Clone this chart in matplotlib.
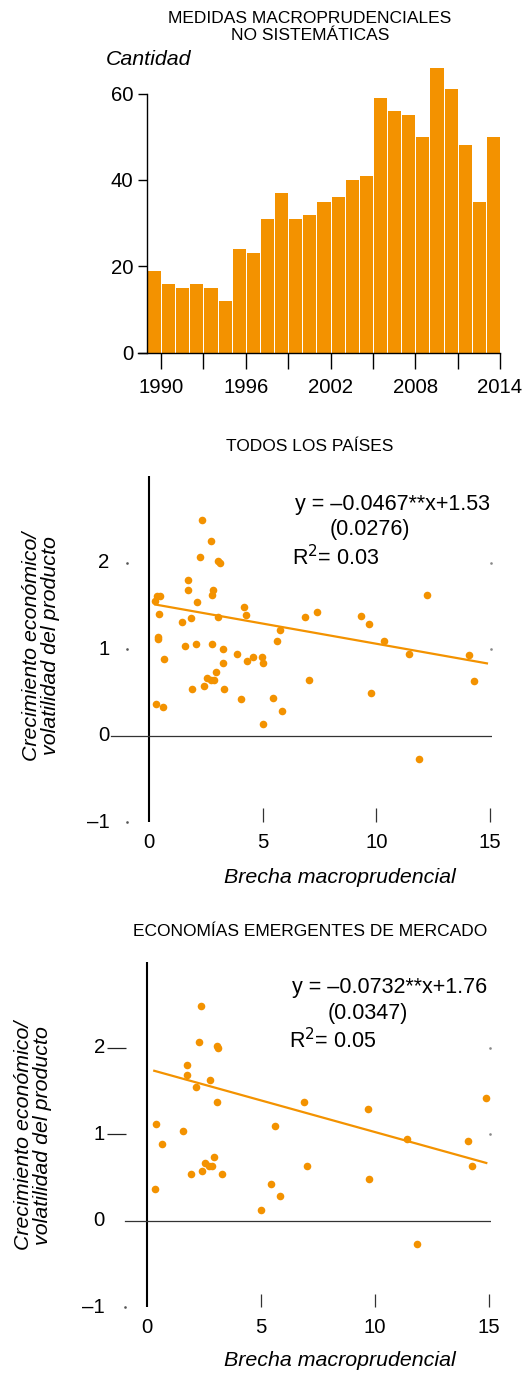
import numpy as np
import matplotlib
matplotlib.use('Agg')
import matplotlib.pyplot as plt

plt.rcParams['font.family'] = ['Liberation Sans', 'DejaVu Sans']

ORANGE = '#F39200'

# --- data -------------------------------------------------------------
years = list(range(1990, 2015))
counts = [19, 16, 15, 16, 15, 12, 24, 23, 31, 37, 31, 32, 35, 36, 40, 41,
          59, 56, 55, 50, 66, 61, 48, 35, 50]
year_ticks = [1990, 1993, 1996, 1999, 2002, 2005, 2008, 2011, 2014]
year_labels = [1990, 1996, 2002, 2008, 2014]
count_ticks = [0, 20, 40, 60]

# todos los paises
gap_all = [2.36, 2.74, 2.27, 3.06, 3.13, 1.74, 1.73, 2.81, 2.78, 0.35, 0.51,
           0.29, 2.14, 4.20, 0.47, 4.26, 1.85, 3.04, 1.48, 6.87, 7.41, 9.34,
           9.68, 12.21, 5.77, 5.63, 10.34, 11.45, 14.07, 0.41, 0.43, 1.60,
           2.10, 2.80, 3.27, 3.86, 0.67, 4.33, 4.57, 4.98, 5.03, 3.25, 2.94,
           2.58, 2.72, 2.86, 7.05, 14.30, 1.91, 2.41, 3.30, 4.05, 5.44, 9.78,
           0.34, 0.61, 5.84, 5.01, 11.88]
ratio_all = [2.49, 2.25, 2.07, 2.02, 2.00, 1.80, 1.69, 1.68, 1.63, 1.62, 1.62,
             1.56, 1.55, 1.49, 1.41, 1.40, 1.36, 1.37, 1.31, 1.37, 1.43, 1.38,
             1.29, 1.63, 1.22, 1.09, 1.10, 0.95, 0.93, 1.14, 1.12, 1.04,
             1.06, 1.06, 1.00, 0.95, 0.89, 0.86, 0.91, 0.91, 0.84, 0.84, 0.74,
             0.67, 0.64, 0.64, 0.64, 0.63, 0.54, 0.57, 0.54, 0.42, 0.43, 0.49,
             0.37, 0.33, 0.29, 0.13, -0.27]
fit_all = (-0.0467, 1.53)
fit_all_x = (0.29, 14.86)
eq_all = ['y = \u20130.0467**x+1.53', '(0.0276)', 'R$^2$= 0.03']

# economias emergentes
gap_em = [2.37, 2.29, 3.06, 3.13, 1.75, 1.74, 2.15, 2.78, 3.06, 6.87, 9.69,
          14.85, 5.61, 0.41, 1.58, 0.67, 11.42, 14.06, 2.94, 2.56, 2.70,
          2.85, 7.03, 14.25, 1.92, 2.40, 3.29, 5.42, 9.74, 0.35, 5.83, 5.01,
          11.84]
ratio_em = [2.49, 2.07, 2.02, 2.00, 1.80, 1.69, 1.55, 1.63, 1.37, 1.37, 1.29,
            1.42, 1.10, 1.12, 1.04, 0.89, 0.95, 0.93, 0.74, 0.67, 0.64,
            0.64, 0.64, 0.63, 0.54, 0.58, 0.54, 0.43, 0.49, 0.37, 0.29, 0.13,
            -0.27]
fit_em = (-0.0732, 1.76)
fit_em_x = (0.32, 14.88)
eq_em = ['y = \u20130.0732**x+1.76', '(0.0347)', 'R$^2$= 0.05']

x_ticks = [5, 10, 15]
x_labels = [0, 5, 10, 15]
y_ticks = [2, 1, 0, -1]

W, H = 524, 1374
fig = plt.figure(figsize=(W / 100, H / 100), dpi=100)

TICK_FS = 14.7
EQ_FS = 15.5
LAB_FS = 15.4
TITLE_FS = 12.5


def box(l, t, r, b):
    return [l / W, 1 - b / H, (r - l) / W, (b - t) / H]


# --- bar chart -----------------------------------------------------------
ax = fig.add_axes(box(147, 59.1, 500, 352.7))
ax.bar(years, counts, width=-0.93, align='edge', color=ORANGE, linewidth=0)
ax.set_xlim(1989, 2014)
ax.set_ylim(0, 68)
for s in ['top', 'right']:
    ax.spines[s].set_visible(False)
ax.spines['left'].set_bounds(0, 60)
ax.spines['bottom'].set_bounds(1988.35, 2014)
ax.spines['left'].set_linewidth(1.0)
ax.spines['bottom'].set_linewidth(1.0)
ax.set_yticks(count_ticks)
ax.tick_params(axis='y', length=6.7, width=1.0, labelsize=TICK_FS, pad=3)
ax.set_xticks(year_ticks)
ax.set_xticklabels([str(y) if y in year_labels else '' for y in year_ticks])
ax.tick_params(axis='x', length=11.5, width=1.0, labelsize=TICK_FS, pad=7)
ax.text(-0.117, 1.0, 'Cantidad', transform=ax.transAxes, fontsize=LAB_FS,
        style='italic', ha='left', va='center')
fig.text(310 / W, 1 - 27 / H, 'MEDIDAS MACROPRUDENCIALES\nNO SISTEMÁTICAS',
         ha='center', va='center', fontsize=TITLE_FS, linespacing=1.2)


# --- scatter panels --------------------------------------------------------
def scatter_panel(rect, gap, ratio, fit, fit_x, eq, title, title_y,
                  hline_left, dash_ticks, ylab_x, ylab_y, xlab_y, eq_pos):
    ax = fig.add_axes(rect)
    ax.set_xlim(-1.7, 15.1)
    ax.set_ylim(-1.05, 3.0)
    ax.axis('off')
    ax.plot([0, 0], [-1.0, 3.0], color='black', lw=1.5, solid_capstyle='butt')
    ax.plot([hline_left, 15.05], [0, 0], color='#333333', lw=0.9)
    ax.vlines(x_ticks, -1.0, -0.84, color='#333333', lw=0.9)
    for v in x_labels:
        ax.text(v, -1.23, str(v), ha='center', va='center', fontsize=TICK_FS,
                clip_on=False)
    for v in y_ticks:
        lab = '\u20131' if v < 0 else str(v)
        ax.text(-1.85 if dash_ticks else -1.72, v, lab, ha='right',
                va='center', fontsize=TICK_FS, clip_on=False)
    if dash_ticks:
        ax.hlines([2, 1], -1.77, -0.92, color='#222222', lw=0.9, clip_on=False)
        ax.plot([-0.95], [-1], 's', ms=0.8, color='#555555', clip_on=False)
    else:
        ax.plot([-0.97] * 3, [2, 1, -1], 's', ms=0.8, color='#555555',
                clip_on=False)
    ax.plot([15.05, 15.05], [2, 1], 's', ms=0.8, color='#888888', lw=0,
            clip_on=False)
    ax.scatter(gap, ratio, s=30, color=ORANGE, linewidths=0, zorder=3,
               clip_on=False)
    xs = np.array(fit_x)
    ax.plot(xs, fit[0] * xs + fit[1], color=ORANGE, lw=1.6, zorder=2)
    ex, ey = eq_pos
    ax.text(ex[0], ey[0], eq[0], ha='right', va='center', fontsize=EQ_FS)
    ax.text(ex[1], ey[1], eq[1], ha='center', va='center', fontsize=EQ_FS)
    ax.text(ex[2], ey[2], eq[2], ha='left', va='center', fontsize=EQ_FS)
    fig.text(ylab_x / W, 1 - ylab_y / H,
             'Crecimiento económico/\nvolatilidad del producto',
             rotation=90, ha='center', va='center', fontsize=LAB_FS,
             style='italic', multialignment='center', linespacing=1.0)
    fig.text(340 / W, 1 - xlab_y / H, 'Brecha macroprudencial',
             ha='center', va='center', fontsize=LAB_FS, style='italic')
    fig.text(310 / W, 1 - title_y / H, title, ha='center', va='center',
             fontsize=TITLE_FS)
    return ax


scatter_panel(box(110.0, 476.2, 492.4, 826.5), gap_all, ratio_all, fit_all,
              fit_all_x, eq_all, 'TODOS LOS PAÍSES', 446.7, -1.67, False,
              41.5, 646, 877.7,
              ((15.0, 9.7, 6.3), (2.67, 2.38, 2.06)))

scatter_panel(box(108.2, 961.5, 491.3, 1311.8), gap_em, ratio_em, fit_em,
              fit_em_x, eq_em, 'ECONOMÍAS EMERGENTES DE MERCADO', 931,
              -0.96, True, 33, 1135.5, 1361,
              ((14.9, 9.7, 6.25), (2.70, 2.40, 2.08)))

fig.savefig('out.png', dpi=100)
